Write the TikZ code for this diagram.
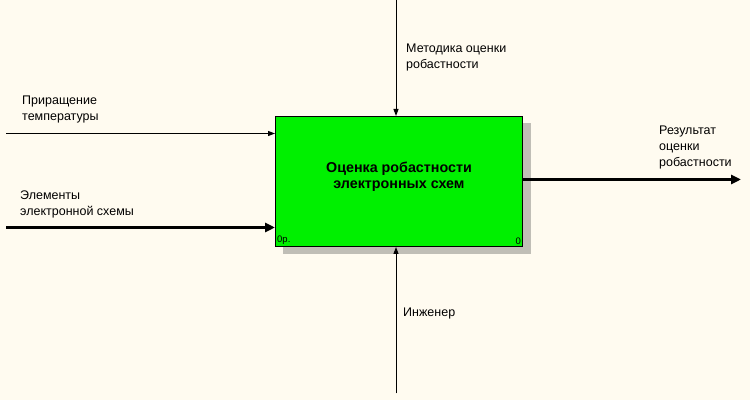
\documentclass[tikz,border=0pt]{standalone}
\usepackage{fontspec}
\setmainfont{Liberation Sans}
\usetikzlibrary{arrows.meta}
\definecolor{paper}{RGB}{255,251,240}
\definecolor{boxgreen}{RGB}{0,240,0}
\definecolor{hatch}{RGB}{192,190,182}

\begin{document}
\begin{tikzpicture}[
    x=1pt, y=-1pt,
    font=\fontsize{12.5}{16}\selectfont,
    activity/.style={
      draw,
      fill=boxgreen,
      line width=1pt,
      minimum width=247pt,
      minimum height=130pt
    },
    title/.style={
      align=center,
      inner sep=0pt,
      font=\fontsize{14.3}{16}\selectfont\bfseries
    },
    thinarrow/.style={
      -{Triangle[length=7pt,width=5pt]},
      line width=1pt
    },
    thickarrow/.style={
      -{Triangle[length=10pt,width=9pt]},
      line width=3pt
    },
    caption/.style={
      anchor=base west,
      align=left,
      inner sep=0pt
    },
    corner/.style={
      font=\fontsize{9.5}{9.5}\selectfont,
      inner sep=2pt
    },
  ]

    \fill [paper] (0,0) rectangle (750,400);
    \fill [hatch] (283,123) rectangle (531,254);
    \node [activity] (func) at (399,181) {};
    \node [title] (functitle) at (399,176) {Оценка робастности\\электронных схем};
    \node [corner, anchor=south west] (nodeno) at (func.south west) {0р.};
    \node [corner, anchor=south east] (cost) at (func.south east) {0};

    \coordinate (control) at (396,0);
    \coordinate (mechanism) at (396,393);
    \coordinate (tempin) at (6,133);
    \coordinate (elemin) at (6,227);
    \coordinate (result) at (741,179);

    \draw [thinarrow] (control) -- (control |- func.north);
    \draw [thinarrow] (mechanism) -- (mechanism |- func.south);
    \draw [thinarrow] (tempin) -- (tempin -| func.west);
    \draw [thickarrow] (elemin) -- (elemin -| func.west);
    \draw [thickarrow] (func.east |- result) -- (result);

    \node [caption] (controltext) at (406,68) {Методика оценки\\робастности};
    \node [caption] (mechanismtext) at (403,316) {Инженер};
    \node [caption] (tempintext) at (22,120) {Приращение\\температуры};
    \node [caption] (elemintext) at (20,215) {Элементы\\электронной схемы};
    \node [caption] (resulttext) at (659,166) {Результат\\оценки\\робастности};
  \end{tikzpicture}
\end{document}
